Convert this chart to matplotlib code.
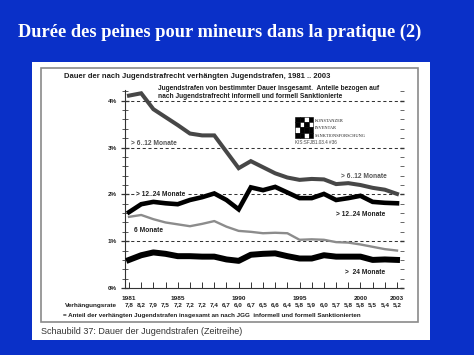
import numpy as np
import matplotlib
matplotlib.use("Agg")
import matplotlib.pyplot as plt
from matplotlib.patches import Rectangle
from matplotlib.transforms import blended_transform_factory

# data (percent of sanctioned juveniles)
years = list(range(1981, 2004))
over_6_12 = [4.11, 4.16, 3.82, 3.65, 3.48, 3.30, 3.26, 3.26, 2.91, 2.56, 2.71, 2.58,
             2.45, 2.36, 2.31, 2.33, 2.32, 2.22, 2.24, 2.20, 2.14, 2.10, 2.01]
over_12_24 = [1.62, 1.79, 1.84, 1.81, 1.79, 1.88, 1.94, 2.02, 1.88, 1.68, 2.15, 2.09,
              2.16, 2.04, 1.92, 1.92, 2.01, 1.88, 1.92, 1.97, 1.84, 1.82, 1.81]
six_months = [1.52, 1.56, 1.47, 1.40, 1.36, 1.32, 1.37, 1.43, 1.31, 1.22, 1.20, 1.17,
              1.18, 1.17, 1.03, 1.04, 1.03, 0.98, 0.97, 0.93, 0.88, 0.83, 0.80]
over_24 = [0.60, 0.70, 0.76, 0.73, 0.68, 0.68, 0.67, 0.67, 0.61, 0.58, 0.71, 0.73,
           0.74, 0.68, 0.63, 0.63, 0.70, 0.67, 0.67, 0.67, 0.60, 0.61, 0.60]
rate = ["7,8", "8,2", "7,9", "7,5", "7,2", "7,2", "7,2", "7,4", "6,7", "6,0", "6,7", "6,5",
        "6,6", "6,4", "5,8", "5,9", "6,0", "5,7", "5,8", "5,8", "5,5", "5,4", "5,2"]
labeled_years = [1981, 1985, 1990, 1995, 2000, 2003]
y_ticks = [0, 1, 2, 3, 4]

W, H = 474, 355
BLUE = "#0a30c8"


def fx(x):
    return x / W


def fy(y):
    return 1 - y / H


fig = plt.figure(figsize=(W / 100, H / 100), dpi=100, facecolor=BLUE)

# white panel and chart frame (behind the axes)
fig.patches.append(Rectangle((fx(32), fy(340)), (430 - 32) / W, (340 - 62) / H,
                             transform=fig.transFigure, facecolor="white",
                             edgecolor="none", zorder=-3))
fig.patches.append(Rectangle((fx(41), fy(322)), (418 - 41) / W, (322 - 68) / H,
                             transform=fig.transFigure, facecolor="white",
                             edgecolor="#8a8a8a", lw=1.2, zorder=-2))

fig.text(fx(18), fy(32), "Durée des peines pour mineurs dans la pratique (2)",
         color="white", fontsize=13.2, fontweight="bold", family="Liberation Serif",
         va="center", ha="left")

sans = "Liberation Sans"
dark = "#1e1e1e"
fig.text(fx(64), fy(77), "Dauer der nach Jugendstrafrecht verhängten Jugendstrafen, 1981 .. 2003",
         fontsize=5.5, fontweight="bold", family=sans, color=dark, va="center")
fig.text(fx(158), fy(88), "Jugendstrafen von bestimmter Dauer insgesamt.  Anteile bezogen auf",
         fontsize=4.8, fontweight="bold", family=sans, color=dark, va="center")
fig.text(fx(158), fy(96.5), "nach Jugendstrafrecht informell und formell Sanktionierte",
         fontsize=4.8, fontweight="bold", family=sans, color=dark, va="center")

ax = fig.add_axes([fx(125), fy(288), (402 - 125) / W, (288 - 90) / H])
ax.set_facecolor("none")

ax.plot(years, over_6_12, color="#474747", lw=2.9, solid_joinstyle="miter", zorder=3)
ax.plot(years, over_12_24, color="black", lw=3.3, solid_joinstyle="miter", zorder=4)
ax.plot(years, six_months, color="#8c8c8c", lw=1.7, zorder=3)
ax.plot(years, over_24, color="black", lw=4.3, zorder=4)

for v in y_ticks[1:]:
    ax.axhline(v, color="#333333", lw=0.75, ls=(0, (3, 2.5)), zorder=1)

ax.set_xlim(1980.67, 2003.41)
ax.set_ylim(0, 4.23)
for s in ["top", "right"]:
    ax.spines[s].set_visible(False)
ax.spines["left"].set_color("#333333")
ax.spines["bottom"].set_color("#333333")
ax.spines["left"].set_linewidth(0.8)
ax.spines["bottom"].set_linewidth(0.8)

ax.set_xticks(years)
ax.set_xticklabels([str(y) if y in labeled_years else "" for y in years])
ax.tick_params(axis="x", direction="in", length=4, width=0.7, color="#333333",
               pad=6, labelsize=4.6, labelcolor=dark)
for lab in ax.get_xticklabels():
    lab.set_fontweight("bold")
    lab.set_family(sans)

ax.set_yticks(y_ticks)
ax.set_yticklabels([f"{v}%" for v in y_ticks])
ax.set_yticks(np.arange(0, 4.21, 0.2), minor=True)
ax.tick_params(axis="y", which="major", direction="inout", length=6, width=0.9,
               color="#333333", labelsize=4.6, labelcolor=dark, pad=3)
ax.tick_params(axis="y", which="minor", direction="inout", length=4, width=0.7,
               color="#555555")
for lab in ax.get_yticklabels():
    lab.set_fontweight("bold")
    lab.set_family(sans)

# right side: short dashes only, no spine
rax = ax.twinx()
rax.set_ylim(ax.get_ylim())
for s in rax.spines.values():
    s.set_visible(False)
rax.set_yticks(y_ticks)
rax.set_yticks(np.arange(0, 4.21, 0.2), minor=True)
rax.set_yticklabels([])
rax.tick_params(axis="y", which="major", direction="inout", length=3.5, width=1.0,
                color="#333333")
rax.tick_params(axis="y", which="minor", direction="inout", length=2.5, width=0.7,
                color="#666666")

# series labels
lab_kw = dict(fontsize=4.8, fontweight="bold", family=sans, va="center")
ax.text(1981.2, 3.08, "> 6..12 Monate", color="#555555", **lab_kw)
ax.text(1998.4, 2.38, "> 6..12 Monate", color="#555555", **lab_kw)
ax.text(1981.6, 2.0, "> 12..24 Monate", color=dark, zorder=5,
        bbox=dict(facecolor="white", edgecolor="none", pad=0.3), **lab_kw)
ax.text(1998.0, 1.56, "> 12..24 Monate", color=dark, **lab_kw)
ax.text(1981.4, 1.22, "6 Monate", color=dark, **lab_kw)
ax.text(1998.7, 0.34, ">  24 Monate", color=dark, **lab_kw)

# Verhaengungsrate row under the axis
trans = blended_transform_factory(ax.transData, fig.transFigure)
fig.text(fx(65), fy(305), "Verhängungsrate", fontsize=4.6, fontweight="bold",
         family=sans, color=dark, va="center")
for y, r in zip(years, rate):
    ax.text(y, fy(305), r, transform=trans, ha="center", va="center",
            fontsize=4.6, fontweight="bold", family=sans, color=dark, clip_on=False)

fig.text(fx(63), fy(315.5),
         "= Anteil der verhängten Jugendstrafen insgesamt an nach JGG  informell und formell Sanktionierten",
         fontsize=4.5, fontweight="bold", family=sans, color=dark, va="center")

fig.text(fx(41), fy(331), "Schaubild 37: Dauer der Jugendstrafen (Zeitreihe)",
         fontsize=6.45, family=sans, color="#333333", va="center")

# KIS logo: small checkered block plus name
logo = [[1, 1, 0, 1],
        [1, 0, 1, 0],
        [0, 1, 1, 1],
        [1, 1, 0, 1]]
cell_w, cell_h = 4.5, 5.2
for r, row in enumerate(logo):
    for c, v in enumerate(row):
        fig.patches.append(Rectangle((fx(295 + c * cell_w), fy(117 + (r + 1) * cell_h)),
                                     cell_w / W, cell_h / H, transform=fig.transFigure,
                                     facecolor="black" if v else "white",
                                     edgecolor="black", lw=0.4))
for i, word in enumerate(["KONSTANZER", "INVENTAR", "SANKTIONSFORSCHUNG"]):
    fig.text(fx(315), fy(121 + i * 7.3), word, fontsize=3.2, family="Liberation Serif",
             color=dark, va="center")
fig.text(fx(295), fy(142.5), "KIS:SFJB1.03.4 #36", fontsize=3.3, family=sans,
         color="#444444", va="center")

fig.savefig("out.png", dpi=100, facecolor=BLUE)
